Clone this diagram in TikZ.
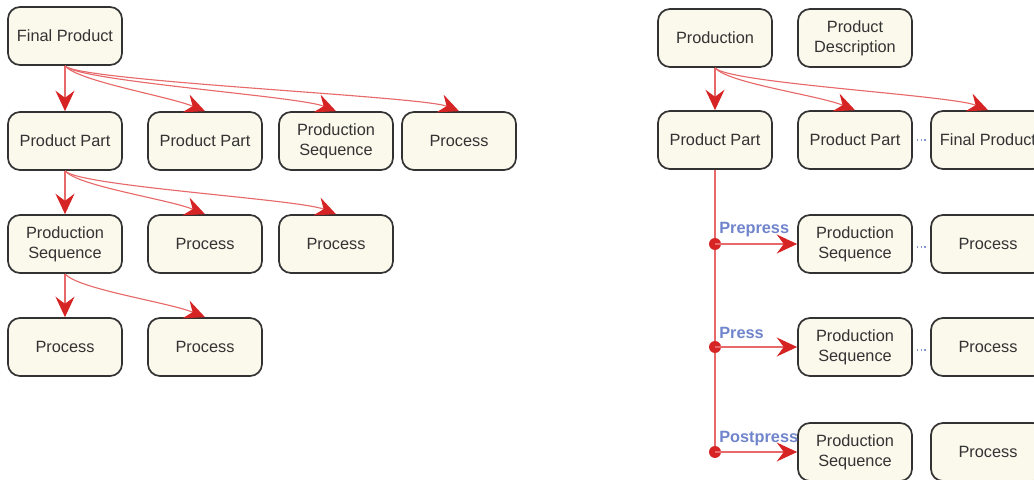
\documentclass[tikz,border=0pt]{standalone}
\usepackage{fontspec}
\setmainfont{Liberation Sans}
\usepackage{tikz}
\usetikzlibrary{arrows.meta}

\definecolor{boxfill}{RGB}{251,248,236}
\definecolor{boxline}{RGB}{50,50,50}
\definecolor{linkred}{RGB}{232,105,105}
\definecolor{tipred}{RGB}{214,36,36}
\definecolor{tagblue}{RGB}{112,132,204}

\begin{document}
\begin{tikzpicture}[x=0.025cm, y=0.025cm,
  box/.style={draw=boxline, line width=1.2pt, fill=boxfill, rounded corners=0.3cm,
    minimum width=2.85cm, minimum height=1.45cm, align=center, text=black!80,
    font=\fontsize{11.6}{14.2}\selectfont},
  link/.style={linkred, line width=0.8pt,
    -{Stealth[length=14.5pt, width=13.5pt, inset=5pt, color=tipred]}},
  fanout/.style={out=-50, in=158, out distance=0.5cm, in distance=1cm},
  dot/.style={circle, fill=tipred, inner sep=0pt, minimum size=8.5pt},
  tag/.style={anchor=base west, inner sep=0pt, text=tagblue,
    font=\fontsize{11.6}{14.2}\selectfont\bfseries},
  gap/.style={tagblue!85, line width=1.1pt, dash pattern=on 1pt off 1.6pt,
    shorten <=3pt, shorten >=2pt}]
\useasboundingbox (0,0) rectangle (1034,-480);

% left tree
\node[box] (fp) at (65,-36) {Final Product};
\node[box] (pa) at (65,-141) {Product Part};
\node[box] (pb) at (205,-141) {Product Part};
\node[box] (sa) at (336,-141) {Production\\Sequence};
\node[box] (ra) at (459,-141) {Process};
\node[box] (sb) at (65,-244) {Production\\Sequence};
\node[box] (rb) at (205,-244) {Process};
\node[box] (rc) at (336,-244) {Process};
\node[box] (rd) at (65,-347) {Process};
\node[box] (re) at (205,-347) {Process};

\draw[link] (fp.south) -- (pa.north);
\draw[link] (fp.south) to[fanout] (pb.north);
\draw[link] (fp.south) to[fanout] (sa.north);
\draw[link] (fp.south) to[fanout] (ra.north);
\draw[link] (pa.south) -- (sb.north);
\draw[link] (pa.south) to[fanout] (rb.north);
\draw[link] (pa.south) to[fanout] (rc.north);
\draw[link] (sb.south) -- (rd.north);
\draw[link] (sb.south) to[fanout] (re.north);

% right tree
\node[box] (prod) at (715,-38) {Production};
\node[box] (desc) at (855,-38) {Product\\Description};
\node[box] (pc) at (715,-140) {Product Part};
\node[box] (pd) at (855,-140) {Product Part};
\node[box] (fq) at (988,-140) {Final Product};
\node[box] (sc) at (855,-244) {Production\\Sequence};
\node[box] (rf) at (988,-244) {Process};
\node[box] (sd) at (855,-347) {Production\\Sequence};
\node[box] (rg) at (988,-347) {Process};
\node[box] (se) at (855,-452) {Production\\Sequence};
\node[box] (rh) at (988,-452) {Process};

\draw[link] (prod.south) -- (pc.north);
\draw[link] (prod.south) to[fanout] (pd.north);
\draw[link] (prod.south) to[fanout] (fq.north);

\draw[linkred, line width=0.8pt] (pc.south) -- (715,-452) coordinate (bottom);
\node[dot] (da) at (715,-244) {};
\node[dot] (db) at (715,-347) {};
\node[dot] (dc) at (bottom) {};
\draw[link] (da.center) -- (sc.west);
\draw[link] (db.center) -- (sd.west);
\draw[link] (dc.center) -- (se.west);

\node[tag] (ta) at (719,-233) {Prepress};
\node[tag] (tb) at (719,-338) {Press};
\node[tag] (tc) at (719,-442) {Postpress};

\draw[gap] (pd.east) -- (fq.west);
\draw[gap] ([yshift=-2pt]sc.east) -- ([yshift=-2pt]rf.west);
\draw[gap] ([yshift=-2pt]sd.east) -- ([yshift=-2pt]rg.west);
\end{tikzpicture}
\end{document}
